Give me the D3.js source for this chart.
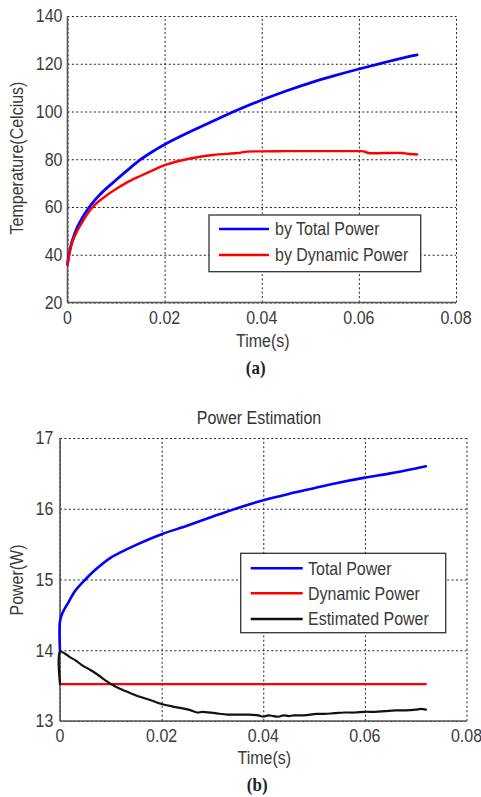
<!DOCTYPE html>
<html>
<head>
<meta charset="utf-8">
<script src="https://cdn.jsdelivr.net/npm/d3@7"></script>
<style>
  html, body { margin: 0; padding: 0; background: #fff; }
  svg { display: block; }
</style>
</head>
<body>
<script>
// ---------- DATA ----------
const timeTicks = [0, 0.02, 0.04, 0.06, 0.08];
const timeTickLabels = ["0", "0.02", "0.04", "0.06", "0.08"];
const tempTicks = [20, 40, 60, 80, 100, 120, 140];
const powerTicks = [13, 14, 15, 16, 17];

// (a) Temperature by Total Power
const tempTotalTime = [0, 0.0005, 0.001, 0.002, 0.003, 0.004, 0.005, 0.0065, 0.008, 0.01, 0.012, 0.015, 0.018, 0.02, 0.025, 0.03, 0.035, 0.04, 0.045, 0.05, 0.055, 0.06, 0.065, 0.07, 0.072];
const tempTotal = [36, 42, 46, 51.5, 55.3, 58.5, 61.3, 64.8, 67.8, 71.3, 74.8, 79.8, 83.8, 86.2, 91.3, 96, 100.6, 104.8, 108.6, 112, 115, 117.8, 120.4, 122.9, 123.7];
// (a) Temperature by Dynamic Power
const tempDynTime = [0, 0.0005, 0.001, 0.002, 0.003, 0.004, 0.005, 0.0065, 0.008, 0.01, 0.012, 0.015, 0.018, 0.02, 0.025, 0.03, 0.035, 0.037, 0.04, 0.045, 0.05, 0.055, 0.06, 0.061, 0.062, 0.065, 0.069, 0.07, 0.072];
const tempDyn = [36, 41.5, 45.3, 50, 53.5, 56.8, 59.5, 62.5, 64.8, 67.5, 70, 73, 75.8, 77.5, 80.2, 81.8, 82.6, 83.2, 83.3, 83.4, 83.4, 83.4, 83.4, 83.3, 82.6, 82.6, 82.6, 82.3, 82.0];

// (b) Total Power
const totPowTime = [0, 0, 0.0005, 0.0016, 0.003, 0.005, 0.007, 0.01, 0.0121, 0.015, 0.02, 0.025, 0.0305, 0.035, 0.04, 0.045, 0.05, 0.055, 0.06, 0.065, 0.07, 0.072];
const totPow = [13.98, 14.41, 14.53, 14.67, 14.84, 15.0, 15.14, 15.31, 15.39, 15.49, 15.64, 15.76, 15.9, 16.01, 16.12, 16.21, 16.29, 16.37, 16.44, 16.5, 16.57, 16.6];
// (b) Dynamic Power
const dynPowTime = [0, 0.072];
const dynPow = [13.52, 13.52];
// (b) Estimated Power
const estPowTime = [0, 0, 0.001, 0.002, 0.003, 0.0043, 0.006, 0.0075, 0.009, 0.0108, 0.013, 0.0154, 0.018, 0.02, 0.0225, 0.0253, 0.027, 0.028, 0.0305, 0.033, 0.035, 0.037, 0.039, 0.04, 0.041, 0.042, 0.043, 0.044, 0.045, 0.046, 0.048, 0.0505, 0.052, 0.054, 0.056, 0.058, 0.06, 0.062, 0.064, 0.066, 0.068, 0.07, 0.071, 0.072];
const estPow = [13.52, 13.98, 13.95, 13.9, 13.86, 13.79, 13.72, 13.65, 13.57, 13.49, 13.42, 13.35, 13.29, 13.24, 13.2, 13.16, 13.12, 13.13, 13.11, 13.09, 13.09, 13.09, 13.08, 13.06, 13.08, 13.07, 13.06, 13.08, 13.07, 13.08, 13.08, 13.1, 13.1, 13.11, 13.12, 13.12, 13.13, 13.13, 13.14, 13.15, 13.15, 13.16, 13.17, 13.16];

const legendA = ["by Total Power", "by Dynamic Power"];
const legendB = ["Total Power", "Dynamic Power", "Estimated Power"];

// ---------- DRAW ----------
const W = 481, H = 797;
const svg = d3.select("body").append("svg").attr("width", W).attr("height", H);
svg.append("rect").attr("width", W).attr("height", H).attr("fill", "#fff");

const SANS = "'Liberation Sans', Arial, Helvetica, sans-serif";
const TXT = "#3a3a3a";

function txt(parent, x, y, s, o = {}) {
  const sy = o.sy ?? 1.18;
  const rot = o.rotate ? ` rotate(${o.rotate})` : "";
  return parent.append("text")
    .attr("transform", `translate(${x},${y})${rot} scale(1,${sy})`)
    .attr("text-anchor", o.anchor || "middle")
    .attr("dominant-baseline", "central")
    .attr("font-family", o.family || SANS)
    .attr("font-size", o.size || 16)
    .attr("font-weight", o.weight || "normal")
    .attr("fill", o.fill || TXT)
    .text(s);
}

function panel(cfg) {
  const { x, y, ticksY, yFmt, xLabelY, yLabelGap, xTitleY, yTitle, yTitleY, capY, cap, series, legend } = cfg;
  const g = svg.append("g");
  const [l, r] = x.range();
  const [b, t] = y.range();

  // grid via axes
  const gx = g.append("g").attr("transform", `translate(0,${b})`)
    .call(d3.axisBottom(x).tickValues(timeTicks).tickSize(-(b - t)).tickFormat(""));
  const gy = g.append("g").attr("transform", `translate(${l},0)`)
    .call(d3.axisLeft(y).tickValues(ticksY).tickSize(-(r - l)).tickFormat(""));
  [gx, gy].forEach(a => {
    a.select(".domain").remove();
    a.selectAll(".tick line").attr("stroke", "#222").attr("stroke-width", 1).attr("stroke-dasharray", "2,2.4");
  });

  // solid left & bottom axes
  g.append("line").attr("x1", l).attr("x2", l).attr("y1", t).attr("y2", b).attr("stroke", "#555").attr("stroke-width", 1.6);
  g.append("line").attr("x1", l).attr("x2", r).attr("y1", b).attr("y2", b).attr("stroke", "#555").attr("stroke-width", 1.6);

  // tick labels
  ticksY.forEach(v => txt(g, l - yLabelGap, y(v), yFmt(v), { anchor: "end" }));
  timeTicks.forEach((v, i) => txt(g, x(v), xLabelY, timeTickLabels[i]));

  // titles
  txt(g, (l + r) / 2 + 1, xTitleY, "Time(s)");
  txt(g, 17, yTitleY, yTitle, { rotate: -90 });
  txt(g, (l + r) / 2 - 6, capY, cap, { family: "'Liberation Serif', 'Times New Roman', serif", weight: "bold", size: 17, sy: 1.1, fill: "#222" });

  // series
  const line = d3.line().x(d => x(d[0])).y(d => y(d[1])).curve(d3.curveCatmullRom.alpha(0.5));
  series.forEach(s => {
    const pts = s.t.map((tt, i) => [tt, s.v[i]]);
    g.append("path").datum(pts).attr("d", line)
      .attr("fill", "none").attr("stroke", s.color).attr("stroke-width", s.w)
      .attr("stroke-linejoin", "round").attr("stroke-linecap", "round");
  });

  // legend
  const L = legend;
  g.append("rect").attr("x", L.x0).attr("y", L.y0).attr("width", L.x1 - L.x0).attr("height", L.y1 - L.y0)
    .attr("fill", "#fff").attr("stroke", "#333").attr("stroke-width", 1.3);
  L.items.forEach((name, i) => {
    const yy = L.ys[i];
    g.append("line").attr("x1", L.lx0).attr("x2", L.lx1).attr("y1", yy).attr("y2", yy)
      .attr("stroke", series[i].color).attr("stroke-width", 2.6);
    txt(g, L.tx, yy, name, { anchor: "start" });
  });
  return g;
}

// Panel (a)
panel({
  x: d3.scaleLinear([0, 0.08], [67.5, 456]),
  y: d3.scaleLinear([20, 140], [302.5, 16]),
  ticksY: tempTicks, yFmt: d => String(d),
  xLabelY: 318, yLabelGap: 5,
  xTitleY: 341, yTitle: "Temperature(Celcius)", yTitleY: 158,
  capY: 368, cap: "(a)",
  series: [
    { t: tempTotalTime, v: tempTotal, color: "#0000ff", w: 2.8 },
    { t: tempDynTime, v: tempDyn, color: "#ff0000", w: 2.4 }
  ],
  legend: { x0: 209, y0: 215, x1: 420.7, y1: 271.7, lx0: 219, lx1: 269, tx: 275, ys: [229, 255], items: legendA }
});

// Panel (b)
const gB = panel({
  x: d3.scaleLinear([0, 0.08], [60, 466.5]),
  y: d3.scaleLinear([13, 17], [721, 438]),
  ticksY: powerTicks, yFmt: d => String(d),
  xLabelY: 736, yLabelGap: 6.7,
  xTitleY: 758, yTitle: "Power(W)", yTitleY: 580,
  capY: 785, cap: "(b)",
  series: [
    { t: totPowTime, v: totPow, color: "#0000ff", w: 2.6 },
    { t: dynPowTime, v: dynPow, color: "#ff0000", w: 2.2 },
    { t: estPowTime, v: estPow, color: "#111111", w: 2.2 }
  ],
  legend: { x0: 240.7, y0: 553.3, x1: 445.7, y1: 632.7, lx0: 250.7, lx1: 302.7, tx: 308, ys: [568.3, 593.3, 619], items: legendB }
});
txt(gB, 259, 418, "Power Estimation", { fill: "#333" });
</script>
</body>
</html>
